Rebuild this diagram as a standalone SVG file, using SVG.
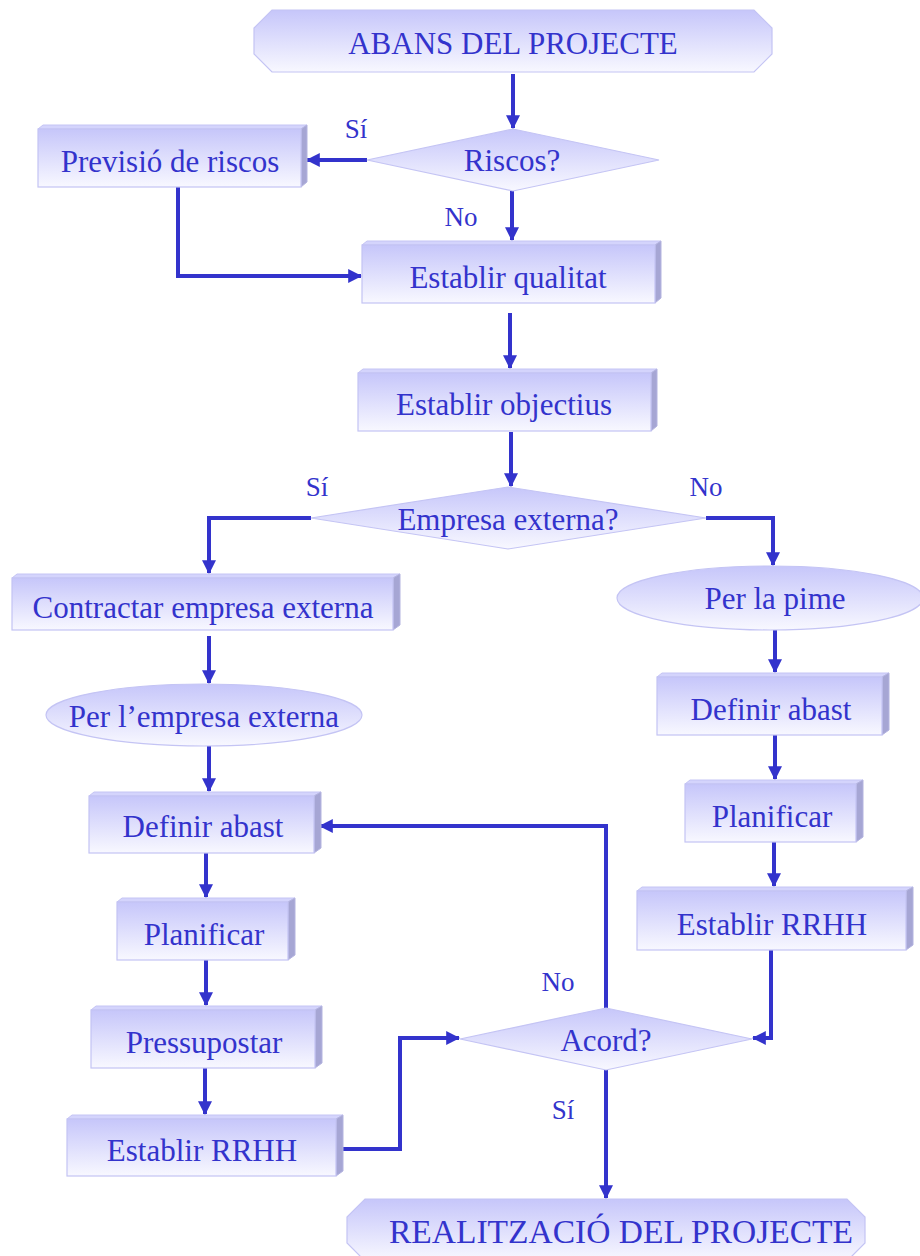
<svg xmlns="http://www.w3.org/2000/svg" width="920" height="1256" viewBox="0 0 920 1256">
  <defs>
    <linearGradient id="face" x1="0" y1="0" x2="0" y2="1">
      <stop offset="0" stop-color="#c6c6fa"/>
      <stop offset="1" stop-color="#f8f8ff"/>
    </linearGradient>
    <marker id="arrow" viewBox="0 0 12 12" refX="11" refY="6" markerWidth="14" markerHeight="14" markerUnits="userSpaceOnUse" orient="auto">
      <path d="M0,0 L12,6 L0,12 Z" fill="#3333cc"/>
    </marker>
    <style>
      .front { fill: url(#face); stroke: #c4c4f4; stroke-width: 1.2; }
      .top { fill: #d4d4fc; stroke: #c4c4f4; stroke-width: 1; }
      .side { fill: #a6a6d4; stroke: #b4b4e0; stroke-width: 1; }
      .lbl { font-family: "Liberation Serif", "Times New Roman", serif; font-size: 31px; fill: #3333cc; text-anchor: middle; }
      .yn { font-family: "Liberation Serif", "Times New Roman", serif; font-size: 27px; fill: #3333cc; text-anchor: middle; }
      .conn { fill: none; stroke: #3333cc; stroke-width: 4; marker-end: url(#arrow); }
    </style>
  </defs>
  <rect width="920" height="1256" fill="#ffffff"/>

  <!-- connectors -->
  <g id="connectors">
    <path class="conn" d="M513,74 V128"/>
    <path class="conn" d="M367,160 H307"/>
    <path class="conn" d="M512,191 V240"/>
    <path class="conn" d="M178,187 V276 H361"/>
    <path class="conn" d="M510,313 V368"/>
    <path class="conn" d="M511,432 V486"/>
    <path class="conn" d="M311,518 H209 V573"/>
    <path class="conn" d="M706,518 H773 V565"/>
    <path class="conn" d="M209,636 V683"/>
    <path class="conn" d="M209,746 V791"/>
    <path class="conn" d="M206,853 V897"/>
    <path class="conn" d="M206,960 V1005"/>
    <path class="conn" d="M205,1068 V1114"/>
    <path class="conn" d="M343,1149 H400 V1038 H459"/>
    <path class="conn" d="M775,630 V672"/>
    <path class="conn" d="M775,735 V779"/>
    <path class="conn" d="M774,842 V886"/>
    <path class="conn" d="M771,950 V1038 H753"/>
    <path class="conn" d="M606,1008 V826 H320"/>
    <path class="conn" d="M606,1070 V1198"/>
  </g>

  <!-- branch labels -->
  <g id="branch-labels">
    <text class="yn" x="356" y="138">Sí</text>
    <text class="yn" x="461" y="226">No</text>
    <text class="yn" x="317" y="496">Sí</text>
    <text class="yn" x="706" y="496">No</text>
    <text class="yn" x="558" y="991">No</text>
    <text class="yn" x="563" y="1119">Sí</text>
  </g>

  <!-- start terminal -->
  <g id="abans">
    <path class="front" d="M272,10 H754 L772,28 V54 L754,72 H272 L254,54 V28 Z"/>
    <text class="lbl" x="513" y="54">ABANS DEL PROJECTE</text>
  </g>

  <g id="riscos">
    <path class="front" d="M513,129 L659,160 L513,191 L367,160 Z"/>
    <text class="lbl" x="512" y="171">Riscos?</text>
  </g>

  <g id="previsio">
    <path class="top" d="M38,129 L43,125 H307 L301,129 Z"/>
    <path class="side" d="M301,129 L307,125 V182 L301,187 Z"/>
    <rect class="front" x="38" y="129" width="263" height="58"/>
    <text class="lbl" x="170" y="172">Previsió de riscos</text>
  </g>

  <g id="qualitat">
    <path class="top" d="M362,245 L367,241 H661 L655,245 Z"/>
    <path class="side" d="M655,245 L661,241 V298 L655,303 Z"/>
    <rect class="front" x="362" y="245" width="293" height="58"/>
    <text class="lbl" x="508" y="288">Establir qualitat</text>
  </g>

  <g id="objectius">
    <path class="top" d="M358,373 L363,369 H657 L651,373 Z"/>
    <path class="side" d="M651,373 L657,369 V426 L651,431 Z"/>
    <rect class="front" x="358" y="373" width="293" height="58"/>
    <text class="lbl" x="504" y="415">Establir objectius</text>
  </g>

  <g id="empresa">
    <path class="front" d="M508,487 L706,518 L508,549 L311,518 Z"/>
    <text class="lbl" x="508" y="530">Empresa externa?</text>
  </g>

  <g id="contractar">
    <path class="top" d="M12,578 L17,574 H400 L393,578 Z"/>
    <path class="side" d="M393,578 L400,574 V625 L393,630 Z"/>
    <rect class="front" x="12" y="578" width="381" height="52"/>
    <text class="lbl" x="203" y="618">Contractar empresa externa</text>
  </g>

  <g id="per-empresa">
    <ellipse class="front" cx="204" cy="715" rx="158" ry="31"/>
    <text class="lbl" x="204" y="727">Per l’empresa externa</text>
  </g>

  <g id="per-pime">
    <ellipse class="front" cx="770" cy="598" rx="153" ry="32"/>
    <text class="lbl" x="775" y="609">Per la pime</text>
  </g>

  <g id="definir-dreta">
    <path class="top" d="M657,677 L662,673 H889 L882,677 Z"/>
    <path class="side" d="M882,677 L889,673 V730 L882,735 Z"/>
    <rect class="front" x="657" y="677" width="225" height="58"/>
    <text class="lbl" x="771" y="720">Definir abast</text>
  </g>

  <g id="planificar-dreta">
    <path class="top" d="M685,784 L690,780 H863 L856,784 Z"/>
    <path class="side" d="M856,784 L863,780 V837 L856,842 Z"/>
    <rect class="front" x="685" y="784" width="171" height="58"/>
    <text class="lbl" x="772" y="827">Planificar</text>
  </g>

  <g id="rrhh-dreta">
    <path class="top" d="M637,891 L642,887 H913 L906,891 Z"/>
    <path class="side" d="M906,891 L913,887 V945 L906,950 Z"/>
    <rect class="front" x="637" y="891" width="269" height="59"/>
    <text class="lbl" x="772" y="935">Establir RRHH</text>
  </g>

  <g id="definir-esquerra">
    <path class="top" d="M89,796 L94,792 H321 L314,796 Z"/>
    <path class="side" d="M314,796 L321,792 V848 L314,853 Z"/>
    <rect class="front" x="89" y="796" width="225" height="57"/>
    <text class="lbl" x="203" y="837">Definir abast</text>
  </g>

  <g id="planificar-esquerra">
    <path class="top" d="M117,902 L122,898 H295 L288,902 Z"/>
    <path class="side" d="M288,902 L295,898 V955 L288,960 Z"/>
    <rect class="front" x="117" y="902" width="171" height="58"/>
    <text class="lbl" x="204" y="945">Planificar</text>
  </g>

  <g id="pressupostar">
    <path class="top" d="M91,1010 L96,1006 H322 L315,1010 Z"/>
    <path class="side" d="M315,1010 L322,1006 V1063 L315,1068 Z"/>
    <rect class="front" x="91" y="1010" width="224" height="58"/>
    <text class="lbl" x="204" y="1053">Pressupostar</text>
  </g>

  <g id="rrhh-esquerra">
    <path class="top" d="M67,1119 L72,1115 H343 L336,1119 Z"/>
    <path class="side" d="M336,1119 L343,1115 V1171 L336,1176 Z"/>
    <rect class="front" x="67" y="1119" width="269" height="57"/>
    <text class="lbl" x="202" y="1161">Establir RRHH</text>
  </g>

  <g id="acord">
    <path class="front" d="M606,1008 L752,1039 L606,1070 L460,1039 Z"/>
    <text class="lbl" x="606" y="1051">Acord?</text>
  </g>

  <!-- end terminal -->
  <g id="realitzacio">
    <path class="front" d="M365,1199 H847 L865,1217 V1243 L847,1261 H365 L347,1243 V1217 Z"/>
    <text class="lbl" x="621" y="1243" style="font-size:33.5px">REALITZACIÓ DEL PROJECTE</text>
  </g>
</svg>
